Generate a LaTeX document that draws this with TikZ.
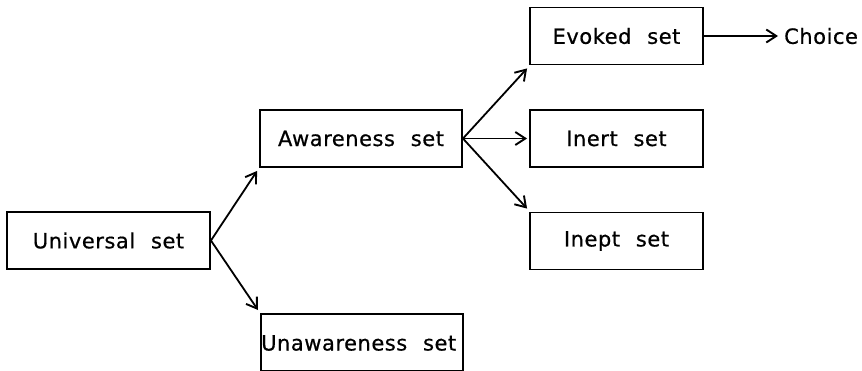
\documentclass[tikz,border=0pt]{standalone}
\usepackage{fontspec}
\setmainfont{DejaVu Sans}[WordSpace=2.2, LetterSpace=2.5, FakeBold=0.6]
\usetikzlibrary{arrows.meta}
\begin{document}
\begin{tikzpicture}[x=1pt,y=-1pt,
  setbox/.style={draw, line width=1.9pt, minimum height=57pt, inner sep=0pt, font=\fontsize{21}{24}\selectfont},
  link/.style={line width=1.8pt, -{Straight Barb[length=10pt,width=13pt,line width=1.9pt]}}]
  \useasboundingbox (0,0) rectangle (862,370);
  \begin{scope}
  \clip (0,0) rectangle (862,370);
  \node[setbox, minimum width=203pt] (univ) at (108.5,240.5) {Universal set};
  \node[setbox, minimum width=202pt] (aware) at (361,138.5) {Awareness set};
  \node[setbox, minimum width=202pt, minimum height=57pt, anchor=north west] (unaware) at (260,313) {};
  \node[anchor=west, inner sep=0pt, font=\fontsize{21}{24}\selectfont] (unawaretext) at (261,343) {Unawareness set};
  \node[setbox, minimum width=173pt] (evoked) at (616.5,36) {Evoked set};
  \node[setbox, minimum width=173pt] (inert) at (616.5,138.5) {Inert set};
  \node[setbox, minimum width=173pt] (inept) at (616.5,241) {Inept set};
  \node[anchor=west, inner sep=0pt, font=\fontsize{21}{24}\selectfont] (choice) at (784,36) {Choice};
  \coordinate (choiceend) at (778,36);
  \draw[link] (univ.east) -- ([shift={(-2pt,-3pt)}]aware.south west);
  \draw[link] (univ.east) -- ([shift={(-2pt,3pt)}]unaware.north west);
  \draw[link] (aware.east) -- ([shift={(-2pt,-3pt)}]evoked.south west);
  \draw[link] (aware.east) -- ([xshift=-2pt]inert.west);
  \draw[link] (aware.east) -- ([shift={(-2pt,3pt)}]inept.north west);
  \draw[link] (evoked.east) -- (choiceend);
  \end{scope}
\end{tikzpicture}
\end{document}
